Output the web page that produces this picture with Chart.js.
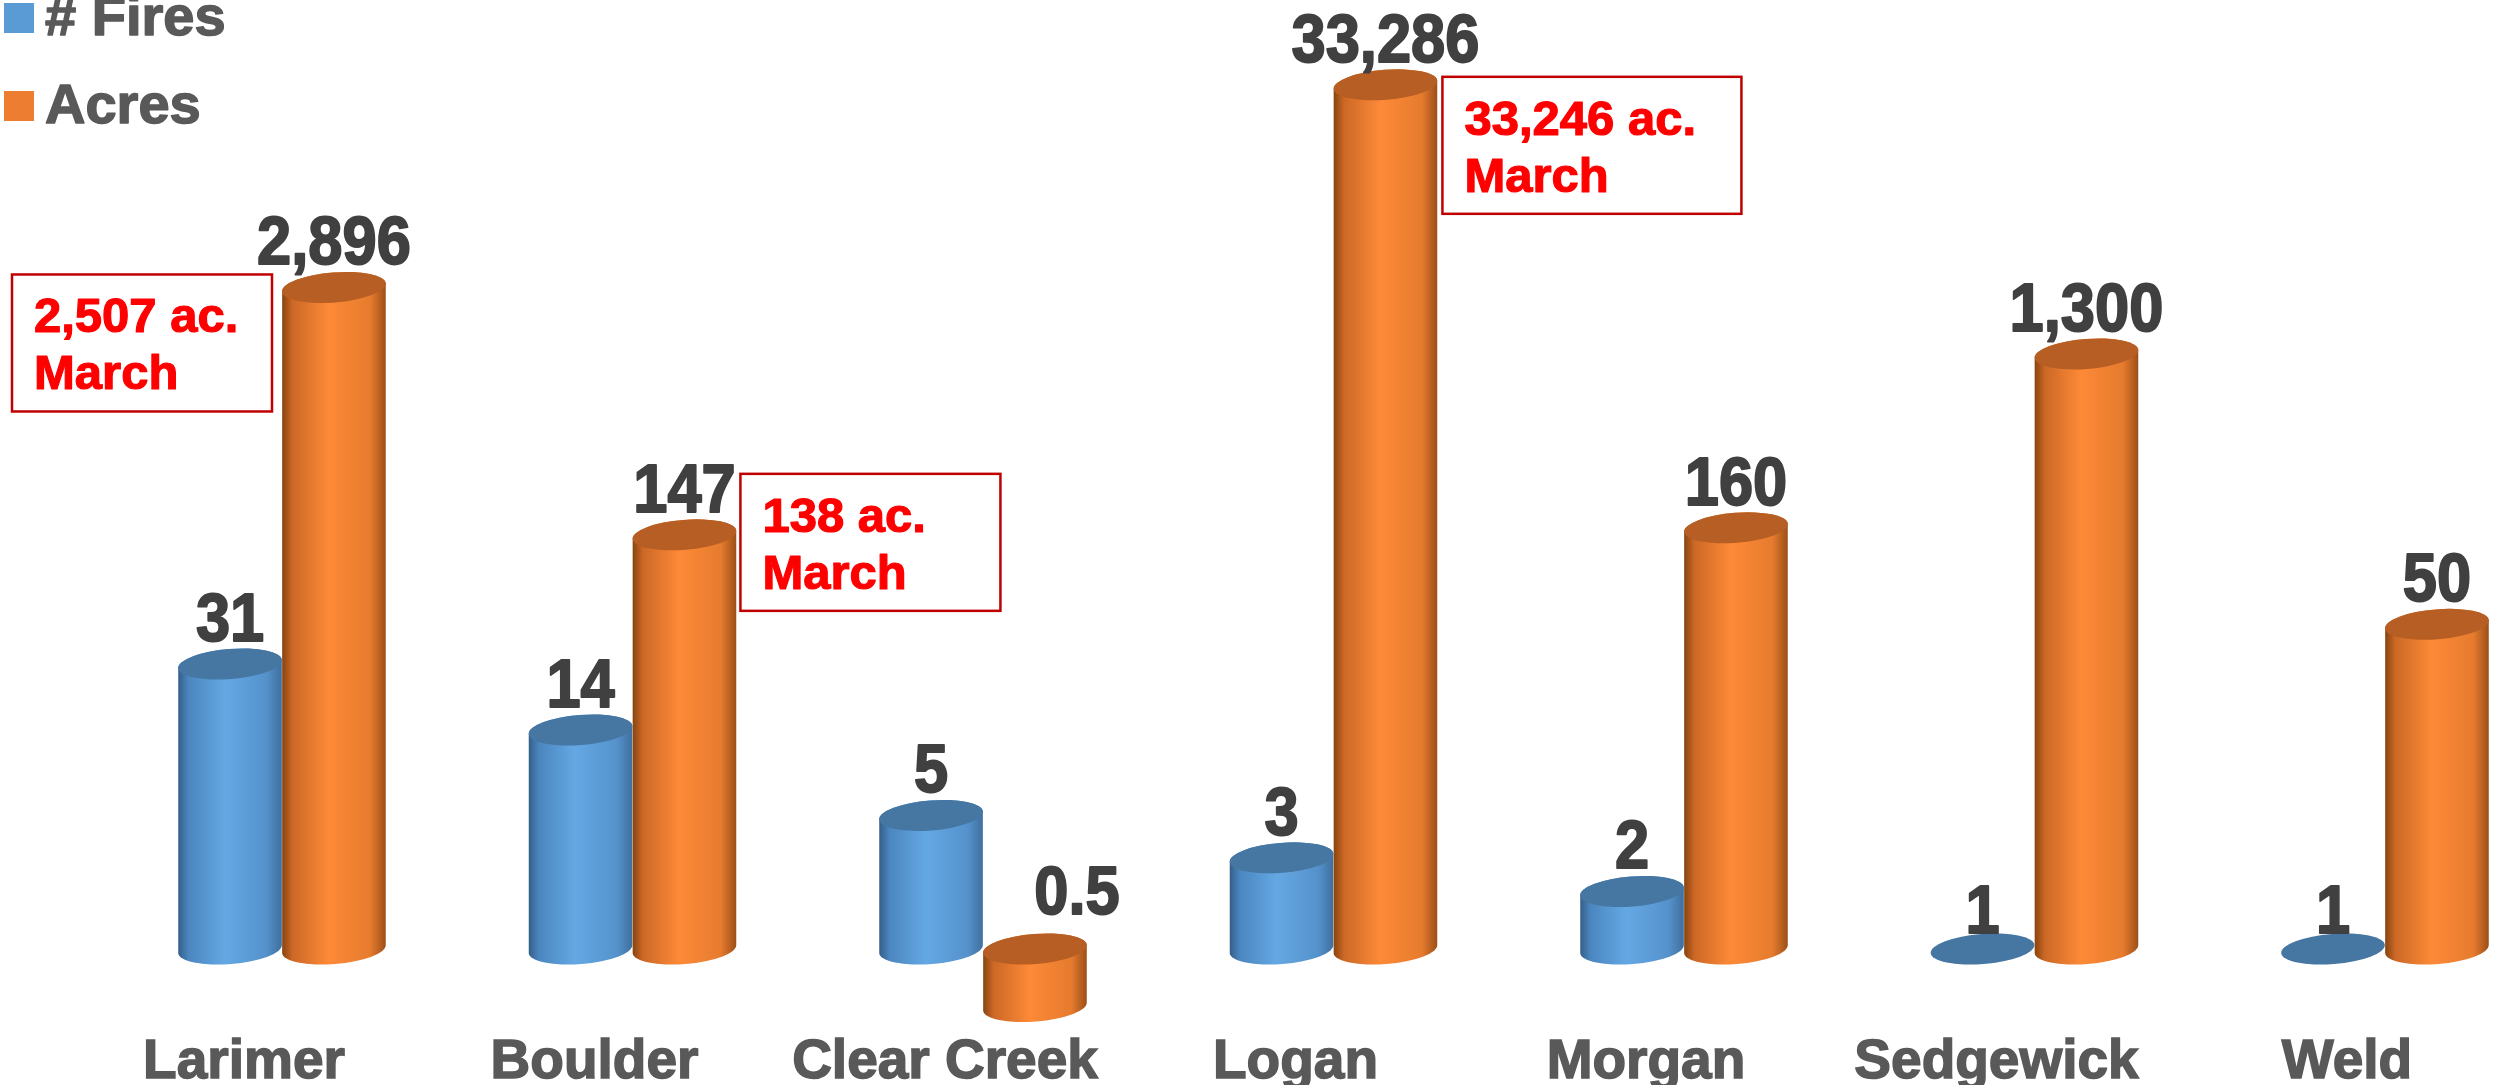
<!DOCTYPE html>
<html>
<head>
<meta charset="utf-8">
<title>Fires and acres by county</title>
<script src="https://cdn.jsdelivr.net/npm/chart.js@4.4.0/dist/chart.umd.min.js"></script>
<style>
    html, body { margin: 0; padding: 0; background: #fff; overflow: hidden; }
    #wrap { width: 2501px; height: 1085px; position: relative; }
</style>
</head>
<body>
<div id="wrap"><canvas id="fireChart"></canvas></div>
<script>
// Counties on the x axis
const counties = ['Larimer', 'Boulder', 'Clear Creek', 'Logan', 'Morgan', 'Sedgewick', 'Weld'];
// Number of fires per county
const fires = [31, 14, 5, 3, 2, 1, 1];
// Acres burned per county
const acres = [2896, 147, 0.5, 33286, 160, 1300, 50];
// Series names
const seriesNames = ['# Fires', 'Acres'];
// March figures written in the red boxes
const marchCounties = ['Larimer', 'Boulder', 'Logan'];
const marchAcres = ['2,507', '138', '33,246'];

// Cylinders stand on 1 on the log axis (0.5 hangs below it)
const BASE_VALUE = 1;
const Y_MIN = 0.415;
const Y_MAX = 92500;

const FONT = "'Liberation Sans', Arial, sans-serif";
const legendColors = ['#5B9BD5', '#ED7D31'];
const shades = [
    {
        top: '#4676A2',
        body: [[0, '#335e88'], [0.1, '#4b86bf'], [0.45, '#64a8e3'], [0.85, '#5592cc'], [1, '#3f6f9d']]
    },
    {
        top: '#B65E23',
        body: [[0, '#86430f'], [0.1, '#cc6826'], [0.45, '#fd8a37'], [0.85, '#e67b2e'], [1, '#9c4f18']]
    }
];

// Where each red box sits next to its orange bar
const noteLayout = {
    Larimer: { side: 'left', gap: 10, dy: -13, w: 260 },
    Boulder: { side: 'right', gap: 4, dy: -61, w: 260 },
    Logan: { side: 'right', gap: 5, dy: -8, w: 299 }
};

function drawCylinder(ctx, p, shade) {
    const rx = p.width / 2;
    const ry = 15;
    const tilt = -0.08;
    const top = Math.min(p.y, p.base);
    const bottom = Math.max(p.y, p.base);
    const ex = rx * Math.cos(tilt);
    const ey = rx * Math.sin(tilt);

    ctx.save();
    if (bottom - top > 0.5) {
        const g = ctx.createLinearGradient(p.x - rx, 0, p.x + rx, 0);
        shade.body.forEach(([stop, color]) => g.addColorStop(stop, color));
        ctx.beginPath();
        ctx.ellipse(p.x, bottom, rx, ry, tilt, 0, Math.PI);
        ctx.lineTo(p.x - ex, top - ey);
        ctx.ellipse(p.x, top, rx, ry, tilt, Math.PI, Math.PI * 2);
        ctx.closePath();
        ctx.fillStyle = g;
        ctx.fill();
    }
    ctx.beginPath();
    ctx.ellipse(p.x, top, rx, ry, tilt, 0, Math.PI * 2);
    ctx.fillStyle = shade.top;
    ctx.fill();
    ctx.restore();
}

// offset of the value label from the cylinder top
function labelOffset(value) {
    if (value < BASE_VALUE) return { dx: 42, dy: 35 };   // bar hanging below the base
    if (value === BASE_VALUE) return { dx: 0, dy: 16 };  // flat disc
    return { dx: 0, dy: 23 };
}

// 3D-looking cylinders plus the value above each one
const cylinderPlugin = {
    id: 'cylinders',
    afterDatasetsDraw(chart) {
        const ctx = chart.ctx;
        const values = [fires, acres];
        chart.data.datasets.forEach((ds, di) => {
            const meta = chart.getDatasetMeta(di);
            meta.data.forEach(bar => {
                const p = bar.getProps(['x', 'y', 'base', 'width'], true);
                drawCylinder(ctx, p, shades[di]);
            });
        });
        chart.data.datasets.forEach((ds, di) => {
            const meta = chart.getDatasetMeta(di);
            meta.data.forEach((bar, i) => {
                const p = bar.getProps(['x', 'y', 'base'], true);
                const top = Math.min(p.y, p.base);
                const value = values[di][i];
                const off = labelOffset(value);
                const text = value.toLocaleString('en-US');
                ctx.save();
                ctx.translate(p.x + off.dx, top - off.dy);
                ctx.scale(0.89, 1);
                ctx.font = 'bold 69px ' + FONT;
                ctx.fillStyle = '#404040';
                ctx.strokeStyle = '#404040';
                ctx.lineWidth = 2;
                ctx.lineJoin = 'round';
                ctx.textAlign = 'center';
                ctx.textBaseline = 'alphabetic';
                ctx.strokeText(text, 0, 0);
                ctx.fillText(text, 0, 0);
                ctx.restore();
            });
        });
    }
};

// Red "March" boxes
const notesPlugin = {
    id: 'marchNotes',
    afterDraw(chart) {
        const ctx = chart.ctx;
        const meta = chart.getDatasetMeta(1);
        marchCounties.forEach((county, k) => {
            const layout = noteLayout[county];
            const bar = meta.data[counties.indexOf(county)];
            const p = bar.getProps(['x', 'y', 'width'], true);
            const left = layout.side === 'right'
                ? p.x + p.width / 2 + layout.gap
                : p.x - p.width / 2 - layout.gap - layout.w;
            const top = p.y + layout.dy;
            ctx.save();
            ctx.fillStyle = '#fff';
            ctx.fillRect(left, top, layout.w, 137);
            ctx.strokeStyle = '#C00000';
            ctx.lineWidth = 2.5;
            ctx.strokeRect(left, top, layout.w, 137);
            ctx.fillStyle = '#FF0000';
            ctx.strokeStyle = '#FF0000';
            ctx.lineWidth = 1.2;
            ctx.lineJoin = 'round';
            ctx.font = 'bold 49px ' + FONT;
            ctx.textAlign = 'left';
            ctx.textBaseline = 'alphabetic';
            const first = marchAcres[k] + ' ac.';
            ctx.strokeText(first, left + 22, top + 58);
            ctx.fillText(first, left + 22, top + 58);
            ctx.strokeText('March', left + 22, top + 115);
            ctx.fillText('March', left + 22, top + 115);
            ctx.restore();
        });
    }
};

// Legend in the top left corner (top row is cut off like the original)
const legendPlugin = {
    id: 'cornerLegend',
    afterDraw(chart) {
        const ctx = chart.ctx;
        chart.data.datasets.forEach((ds, di) => {
            const y = 3 + di * 88;
            ctx.save();
            ctx.fillStyle = legendColors[di];
            ctx.fillRect(4, y, 30, 30);
            ctx.fillStyle = '#595959';
            ctx.strokeStyle = '#595959';
            ctx.lineWidth = 1.5;
            ctx.lineJoin = 'round';
            ctx.font = 'bold 56px ' + FONT;
            ctx.textBaseline = 'alphabetic';
            ctx.strokeText(ds.label, 45, y + 32);
            ctx.fillText(ds.label, 45, y + 32);
            ctx.restore();
        });
    }
};

function initializeFireChart() {
    const ctx = document.getElementById('fireChart').getContext('2d');

    new Chart(ctx, {
        type: 'bar',
        data: {
            labels: counties,
            datasets: [
                {
                    label: seriesNames[0],
                    data: fires.map(v => [BASE_VALUE, v]),
                    backgroundColor: 'rgba(0,0,0,0)',
                    borderWidth: 0,
                    clip: false
                },
                {
                    label: seriesNames[1],
                    data: acres.map(v => [BASE_VALUE, v]),
                    backgroundColor: 'rgba(0,0,0,0)',
                    borderWidth: 0,
                    clip: false
                }
            ]
        },
        options: {
            responsive: true,
            maintainAspectRatio: false,
            animation: false,
            events: [],
            categoryPercentage: 0.593,
            barPercentage: 1,
            layout: {
                padding: { left: 282, right: 116, top: 0, bottom: 0 }
            },
            plugins: {
                legend: { display: false },
                tooltip: { enabled: false }
            },
            scales: {
                x: {
                    type: 'category',
                    offset: false,
                    grid: { display: false, drawTicks: false },
                    border: { display: false },
                    ticks: {
                        color: '#595959',
                        textStrokeColor: '#595959',
                        textStrokeWidth: 1.5,
                        font: { family: FONT, size: 55, weight: 'bold' },
                        padding: 8,
                        labelOffset: -38,
                        autoSkip: false,
                        maxRotation: 0
                    },
                    afterFit(scale) {
                        scale.height = 63;
                    }
                },
                y: {
                    type: 'logarithmic',
                    display: false,
                    min: Y_MIN,
                    max: Y_MAX,
                    bounds: 'data'
                }
            }
        },
        plugins: [cylinderPlugin, notesPlugin, legendPlugin]
    });
}

document.addEventListener('DOMContentLoaded', initializeFireChart);
</script>
</body>
</html>
